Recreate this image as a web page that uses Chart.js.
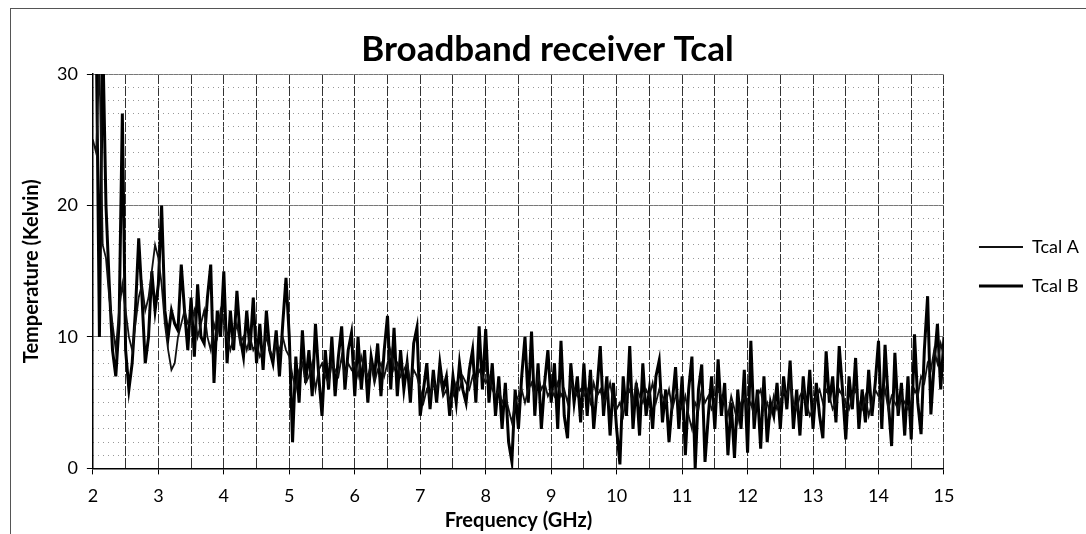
<!DOCTYPE html>
<html>
<head>
<meta charset="utf-8">
<title>Broadband receiver Tcal</title>
<script src="https://cdn.jsdelivr.net/npm/chart.js@4.4.0/dist/chart.umd.min.js"></script>
<style>
  body { margin: 0; background: #fff; }
  #wrap { position: relative; width: 1086px; height: 534px; overflow: hidden; }
  #frame { position: absolute; left: 10px; top: 8px; width: 1100px; height: 560px;
           border: 1px solid #555; pointer-events: none; }
</style>
</head>
<body>
<div id="wrap">
  <canvas id="tcalChart" width="1086" height="534"></canvas>
  <div id="frame"></div>
</div>
<script>
// frequency grid (GHz): 2.00 .. 15.00 in 0.05 steps
const freqStart = 2;
const freqStep = 0.05;
const freqCount = 261;

// Tcal A, thin trace (Kelvin), one row per 0.5 GHz
const tcalA = [
  25, 24, 31, 17, 16, 13, 11, 9, 12, 14,
  12, 10, 9, 11, 13, 14, 12, 13, 15, 17,
  16, 14, 11, 9, 7.5, 8, 10, 11, 12, 11,
  11, 12, 10, 11, 12, 10, 9, 11, 10, 12,
  11, 10, 9, 10, 11, 9.5, 10, 9, 10, 9,
  9.5, 8.5, 9, 10, 9, 8.5, 9.5, 9, 10, 9,
  8.5, 7, 6, 7.5, 8, 6.5, 7, 8, 6, 7.5,
  8, 7, 6.5, 8, 7.5, 7, 8.5, 7, 8, 7.5,
  8, 7, 8.5, 7.5, 7, 8, 6.5, 7.5, 8, 7,
  8, 9, 7.5, 8, 7, 7.5, 8, 6.5, 7.5, 7,
  6, 5, 6, 5.5, 6.5, 6, 7, 5.5, 6, 5,
  5.5, 6.5, 6, 7, 6.5, 6, 7, 6.5, 7.5, 7,
  6.5, 7, 6, 5.5, 6, 5, 5.5, 4.5, 3.5, 5,
  5.5, 6, 5, 6, 6.5, 5.5, 7, 6, 6.5, 5.5,
  6, 5.5, 6.5, 5.5, 6, 5, 6.5, 6, 5.5, 6,
  5.5, 6, 5, 6.5, 5.5, 6, 5, 5.5, 6.5, 5,
  4.5, 5, 4, 5.5, 6, 5, 6.5, 5.5, 5, 6,
  5.5, 6.5, 5, 6, 5.5, 5, 6, 4.5, 5.5, 5,
  4.5, 5.5, 4, 3, 5, 4.5, 6, 5, 5.5, 4.5,
  5, 6, 5.5, 5, 4, 5.5, 4.5, 3.5, 5, 5.5,
  4.5, 5, 4, 5.5, 6, 4.5, 5, 4, 5.5, 4.5,
  5, 6, 5.5, 6.5, 5, 4.5, 5.5, 6, 5, 4,
  4.5, 5.5, 6, 5, 6, 5.5, 4.5, 5, 6, 5.5,
  5, 4.5, 5.5, 6, 5, 4.5, 5.5, 4, 5, 6,
  5.5, 5, 6, 4.5, 5.5, 5, 4.5, 5.5, 5, 4.5,
  5, 6, 5.5, 7, 6.5, 8, 7.5, 9, 8, 9.5,
  8.5
];

// Tcal B, thick trace (Kelvin)
const tcalB = [
  33, 34, 10, 33, 20, 14, 9, 7, 11, 27,
  9, 6, 8, 12, 17.5, 13, 8, 10, 15, 12,
  14, 20, 12, 10, 12, 11, 10.5, 15.5, 12, 9,
  13, 8.5, 14, 10, 9.5, 13, 15.5, 6.5, 12, 10,
  15, 8, 12, 9, 13.5, 10, 8.5, 12, 9, 13,
  8, 11, 7.5, 12, 9, 8, 10.5, 7, 11, 14.5,
  10, 2, 8.5, 5, 10.5, 6.5, 9, 5.5, 11, 7,
  4, 9, 6, 10, 5.5, 8.5, 10.8, 6, 9, 10.3,
  5.5, 10, 6, 9, 5, 8.5, 7, 9.5, 5.5, 9,
  11.6, 6, 10.7, 5.5, 9, 6, 8, 5, 9.5, 10.7,
  4, 6, 8, 4.5, 7.5, 5, 8, 6, 7, 4,
  7, 5, 8, 6, 5, 7.5, 9, 5, 10.8, 6,
  10.6, 5, 8, 4, 7, 3, 6.5, 2, 0.5, 6,
  3, 7, 10, 5, 10.4, 4, 8, 3, 6.5, 9,
  5, 8, 3, 9.7, 4, 2.3, 8, 5, 7, 3.5,
  8, 4, 7.5, 3, 6, 9.3, 4, 7, 2.5, 6.5,
  3, 0.3, 7, 4, 9.3, 3, 6.5, 2.5, 8, 4,
  6, 3, 7, 8.2, 3.5, 6, 2, 5, 7.7, 3,
  7, 1, 6, 8.5, 0, 6, 7.9, 0.5, 4, 7,
  3, 8.3, 4, 6.5, 1, 5, 0.8, 6, 3, 7.5,
  1.2, 9.7, 3, 6, 1.5, 7, 2, 5, 4, 6.5,
  3, 7, 4.5, 8.2, 3, 6, 2.5, 7, 4, 7.5,
  3, 6.5, 4, 2.3, 8.9, 5, 7, 3.5, 9.3, 6,
  2.2, 7, 4.5, 8.4, 3, 6, 3.5, 7.5, 4, 6.5,
  9.7, 3, 9.4, 5, 1.7, 8.8, 4, 6.5, 2.5, 7,
  2.2, 10.2, 5, 2.6, 9, 13.1, 4.1, 8, 11, 6,
  10
];

const seriesNames = ['Tcal A', 'Tcal B'];

const freq = [];
for (let i = 0; i < freqCount; i++) freq.push(freqStart + i * freqStep);

function toPoints(vals) {
  return vals.map((v, i) => ({ x: freq[i], y: v }));
}

const fontFamily = 'Lato, "Open Sans", sans-serif';

// shifts the legend a bit to the right, away from the plot
const legendNudge = {
  id: 'legendNudge',
  afterLayout(chart) {
    chart.legend.left += 14;
    chart.legend.right += 14;
  }
};

let ctx = document.getElementById('tcalChart');
let tcalChart = new Chart(ctx, {
  type: 'line',
  data: {
    datasets: [{
      label: seriesNames[0],
      data: toPoints(tcalA),
      borderColor: '#111',
      borderWidth: 1.8,
      pointRadius: 0,
      tension: 0
    }, {
      label: seriesNames[1],
      data: toPoints(tcalB),
      borderColor: '#000',
      borderWidth: 3,
      pointRadius: 0,
      tension: 0
    }]
  },
  plugins: [legendNudge],
  options: {
    responsive: false,
    animation: false,
    layout: {
      padding: { left: 20, right: 11, top: 0, bottom: 1 }
    },
    plugins: {
      title: {
        display: true,
        text: 'Broadband receiver Tcal',
        color: '#000',
        font: { family: fontFamily, size: 35, weight: 'bold' },
        padding: { top: 29, bottom: 3 }
      },
      legend: {
        position: 'right',
        labels: {
          color: '#000',
          font: { family: fontFamily, size: 18 },
          usePointStyle: true,
          pointStyle: 'line',
          pointStyleWidth: 44,
          padding: 21
        }
      },
      tooltip: { enabled: false }
    },
    scales: {
      x: {
        type: 'linear',
        min: 2,
        max: 15,
        ticks: {
          stepSize: 0.5,
          color: '#000',
          font: { family: fontFamily, size: 18 },
          padding: 11,
          maxRotation: 0,
          autoSkip: false,
          callback: function(v) { return Number.isInteger(v) ? v : ''; }
        },
        grid: {
          color: '#333',
          lineWidth: 1,
          tickLength: 6,
          tickColor: c => Number.isInteger(c.tick.value) ? '#000' : 'rgba(0,0,0,0)'
        },
        border: { color: '#000', width: 1.5, dash: [10, 2] },
        title: {
          display: true,
          text: 'Frequency (GHz)',
          color: '#000',
          font: { family: fontFamily, size: 20, weight: 'bold' },
          padding: { top: -9, bottom: 0 }
        }
      },
      y: {
        min: 0,
        max: 30,
        ticks: {
          stepSize: 10,
          color: '#000',
          font: { family: fontFamily, size: 18 },
          padding: 9
        },
        grid: {
          color: '#777',
          lineWidth: 1,
          tickLength: 6,
          tickColor: '#000'
        },
        border: { color: '#000', width: 1.5 },
        title: {
          display: true,
          text: 'Temperature (Kelvin)',
          color: '#000',
          font: { family: fontFamily, size: 20, weight: 'bold' },
          padding: { top: 0, bottom: 4 }
        }
      },
      yMinor: {
        position: 'left',
        min: 0,
        max: 30,
        ticks: { stepSize: 1, display: false },
        grid: { color: '#999', lineWidth: 1, drawTicks: false },
        border: { display: false, dash: [1, 4] }
      }
    }
  }
});
</script>
</body>
</html>
